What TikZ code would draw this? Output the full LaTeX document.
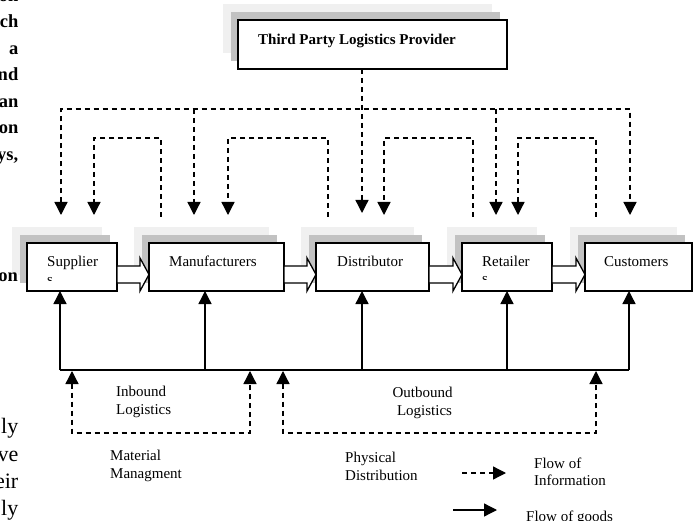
\documentclass[tikz,border=0pt]{standalone}
\usepackage{fontspec}
\setmainfont{Liberation Serif}
\usetikzlibrary{arrows.meta,calc}
\definecolor{shlight}{gray}{0.94}
\definecolor{shdark}{gray}{0.76}
\newcommand\shadowpair[5]{%
  \fill[shlight] (#1-#3/2-15,#2-#4/2-16) rectangle +(#3,#4);
  \fill[shdark] (#1-#3/2-7,#2-#4/2-8) rectangle +(#3,#4);}
\newcommand\blockarrow[2]{%
  \draw[line width=1.3pt, fill=white, line join=miter]
    ($(#1.east)+(0,-1)$) -- ($(#2.west)+(-9,-1)$) -- ($(#2.west)+(-9,-9)$)
    -- ($(#2.west)+(0,7.5)$) -- ($(#2.west)+(-9,24)$) -- ($(#2.west)+(-9,16)$)
    -- ($(#1.east)+(0,16)$) -- cycle;}
\begin{document}
\begin{tikzpicture}[x=1pt,y=-1pt,
  box/.style={draw, line width=1.3pt, fill=white, inner sep=0pt, outer sep=0pt},
  lbl/.style={font=\fontsize{15}{18}\selectfont, inner sep=0pt, anchor=base west},
  lblc/.style={font=\fontsize{15}{18}\selectfont, inner sep=0pt, anchor=base},
  fragb/.style={font=\bfseries\fontsize{18.5}{22}\selectfont, inner sep=0pt, anchor=base east},
  fragr/.style={font=\fontsize{22}{26}\selectfont, inner sep=0pt, anchor=base east},
  info/.style={line width=1.3pt, dash pattern=on 5pt off 4pt},
  goods/.style={line width=1.3pt},
  tri/.style={-{Triangle[length=13pt,width=13pt]}},
  tritwo/.style={{Triangle[length=13pt,width=13pt]}-{Triangle[length=13pt,width=13pt]}}
]
\useasboundingbox (0,0) rectangle (693,521);
\clip (0,0) rectangle (693,521);

% page text fragments
\node[fragb] (f1) at (18.5,1.5) {on};
\node[fragb] (f2) at (18.5,28) {ch};
\node[fragb] (f3) at (18.5,54.5) {a};
\node[fragb] (f4) at (18.5,81) {nd};
\node[fragb] (f5) at (18.5,107.5) {an};
\node[fragb] (f6) at (18.5,134) {on};
\node[fragb] (f7) at (18.5,160.5) {ys,};
\node[fragr] (g1) at (18.5,433) {ly};
\node[fragr] (g2) at (18.5,461) {ve};
\node[fragr] (g3) at (18.5,488) {eir};
\node[fragr] (g4) at (18.5,515) {ly};

% shadows
\shadowpair{372.5}{44.5}{269}{49}{}
\shadowpair{72}{267}{90}{48}{}
\shadowpair{216.5}{267}{135}{48}{}
\shadowpair{372.5}{267}{113}{48}{}
\shadowpair{507}{267}{90}{48}{}
\shadowpair{638.5}{267}{107}{48}{}
\node[fragb, fill=white, inner sep=0.5pt] (f8) at (18.5,282) {on};

% boxes
\node[box, minimum width=269pt, minimum height=49pt] (tpl) at (372.5,44.5) {};
\node[box, minimum width=90pt, minimum height=48pt] (sup) at (72,267) {};
\node[box, minimum width=135pt, minimum height=48pt] (man) at (216.5,267) {};
\node[box, minimum width=113pt, minimum height=48pt] (dis) at (372.5,267) {};
\node[box, minimum width=90pt, minimum height=48pt] (ret) at (507,267) {};
\node[box, minimum width=107pt, minimum height=48pt] (cus) at (638.5,267) {};

% block arrows (flow between stages)
\blockarrow{sup}{man}
\blockarrow{man}{dis}
\blockarrow{dis}{ret}
\blockarrow{ret}{cus}

% box texts
\node[lbl, font=\bfseries\fontsize{15}{18}\selectfont] (ttpl) at (258,45) {Third Party Logistics Provider};
\node[lbl] (tsup) at (47,267) {Supplier};
\begin{scope}
  \clip (27,243) rectangle (117,280.5);
  \node[lbl] (tsups) at (47,284) {s};
\end{scope}
\node[lbl] (tman) at (169,267) {Manufacturers};
\node[lbl] (tdis) at (337,267) {Distributor};
\node[lbl] (tret) at (482,266) {Retailer};
\begin{scope}
  \clip (462,243) rectangle (552,280);
  \node[lbl] (trets) at (482,283.5) {s};
\end{scope}
\node[lbl] (tcus) at (604,267) {Customers};

% information flow from 3PL
\coordinate (ol) at (61,109);
\coordinate (or) at (630,109);
\coordinate (a1) at (61,215);
\coordinate (a2) at (194,215);
\coordinate (a3) at (362,213);
\coordinate (a4) at (496,215);
\coordinate (a5) at (630,215);
\draw[info, tritwo] (a1) -- (ol) -- (or) -- (a5);
\draw[info, tri] (a3 |- tpl.south) -- (a3);
\draw[info, tri] (a2 |- ol) -- (a2);
\draw[info, tri] (a4 |- ol) -- (a4);

% upstream information loops
\coordinate (s1) at (161,217); \coordinate (e1) at (94,215);
\coordinate (s2) at (328,217); \coordinate (e2) at (228,215);
\coordinate (s3) at (473,217); \coordinate (e3) at (384,215);
\coordinate (s4) at (596,217); \coordinate (e4) at (518,215);
\draw[info, tri] (s1) -- (161,138) -- (94,138) -- (e1);
\draw[info, tri] (s2) -- (328,138) -- (228,138) -- (e2);
\draw[info, tri] (s3) -- (473,138) -- (384,138) -- (e3);
\draw[info, tri] (s4) -- (596,138) -- (518,138) -- (e4);

% goods flow bus
\coordinate (b1) at (60,370);
\coordinate (b2) at (205,370);
\coordinate (b3) at (362,370);
\coordinate (b4) at (507,370);
\coordinate (b5) at (629,370);
\draw[goods] (b1) -- (b5);
\draw[goods, tri] (b1) -- (b1 |- sup.south);
\draw[goods, tri] (b2) -- (b2 |- man.south);
\draw[goods, tri] (b3) -- (b3 |- dis.south);
\draw[goods, tri] (b4) -- (b4 |- ret.south);
\draw[goods, tri] (b5) -- (b5 |- cus.south);

% inbound / outbound loops
\coordinate (i1) at (72,371); \coordinate (i2) at (250,371);
\coordinate (o1) at (283,371); \coordinate (o2) at (596,371);
\draw[info, tritwo] (i1) -- (72,433) -- (250,433) -- (i2);
\draw[info, tritwo] (o1) -- (283,433) -- (596,433) -- (o2);

% labels
\node[lbl] (lin1) at (116,396) {Inbound};
\node[lbl] (lin2) at (116,414) {Logistics};
\node[lblc] (lout1) at (422.5,397) {Outbound};
\node[lblc] (lout2) at (424.5,415) {Logistics};
\node[lbl] (lmm1) at (110,460) {Material};
\node[lbl] (lmm2) at (110,478) {Managment};
\node[lbl] (lpd1) at (345,462) {Physical};
\node[lbl] (lpd2) at (345,480) {Distribution};

% legend
\coordinate (k1) at (462,473); \coordinate (k2) at (506,473);
\coordinate (k3) at (453,510); \coordinate (k4) at (497,510);
\draw[info, tri] (k1) -- (k2);
\draw[goods, tri] (k3) -- (k4);
\node[lbl] (lfi1) at (534,468) {Flow of};
\node[lbl] (lfi2) at (534,485) {Information};
\node[lbl] (lfg) at (526,521) {Flow of goods};
\end{tikzpicture}
\end{document}
